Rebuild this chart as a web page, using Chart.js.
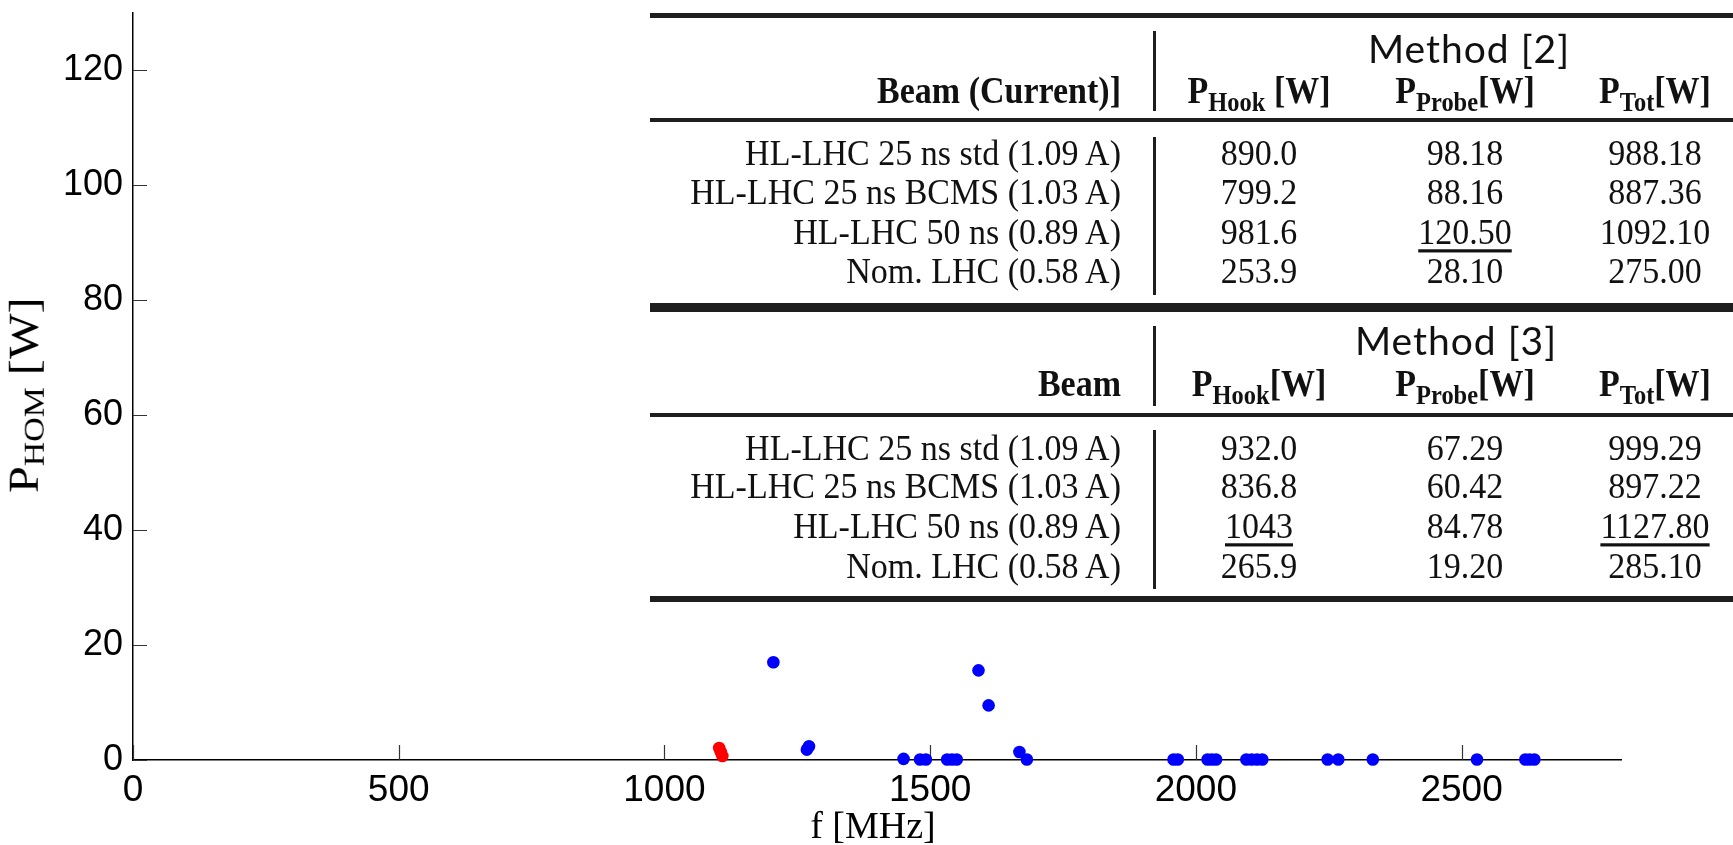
<!DOCTYPE html>
<html><head><meta charset="utf-8">
<script src="https://cdn.jsdelivr.net/npm/chart.js@4.4.1/dist/chart.umd.min.js"></script>
<style>
html,body{margin:0;padding:0;background:#fff;}
#wrap{position:relative;width:1733px;height:845px;overflow:hidden;background:#fff;}
#c{position:absolute;left:0;top:0;}
.t{position:absolute;white-space:nowrap;line-height:0;color:#111;}
.serif{font-family:"Liberation Serif","Times New Roman",serif;}
.sans{font-family:Lato,"Open Sans",sans-serif;letter-spacing:1px;}
.sb{font-size:0.72em;vertical-align:-0.3em;}
.ysb{font-size:0.7em;vertical-align:-0.22em;}
.rule{position:absolute;background:#1e1e1e;}
.ul{text-decoration:underline;text-decoration-thickness:3px;text-underline-offset:5px;}
</style></head><body>
<div id="wrap"><canvas id="c" width="1733" height="845"></canvas><div id="ov"></div></div>
<script>
// ---- chart data ----
const blueFreq  = [1205, 1268, 1272, 1450, 1481, 1492, 1532, 1541, 1550, 1591, 1610, 1668, 1682, 1958, 1966, 2022, 2030, 2038, 2095, 2105, 2115, 2125, 2248, 2268, 2333, 2529, 2620, 2628, 2637];
const bluePower = [17.0, 1.8, 2.4, 0.2, 0.1, 0.1, 0.1, 0.1, 0.1, 15.6, 9.5, 1.4, 0.1, 0.1, 0.1, 0.1, 0.1, 0.1, 0.1, 0.1, 0.1, 0.1, 0.1, 0.1, 0.1, 0.1, 0.1, 0.1, 0.1];
const redFreq   = [1103, 1106, 1109];
const redPower  = [2.1, 1.4, 0.7];
const xTickValues = [0, 500, 1000, 1500, 2000, 2500];
const yTickValues = [0, 20, 40, 60, 80, 100, 120];
const xMax = 2800, yMax = 130;

// ---- table data ----
const beamLabels = ["HL-LHC 25 ns std (1.09 A)", "HL-LHC 25 ns BCMS (1.03 A)", "HL-LHC 50 ns (0.89 A)", "Nom. LHC (0.58 A)"];
const m2Hook  = ["890.0", "799.2", "981.6", "253.9"];
const m2Probe = ["98.18", "88.16", "120.50", "28.10"];
const m2Tot   = ["988.18", "887.36", "1092.10", "275.00"];
const m3Hook  = ["932.0", "836.8", "1043", "265.9"];
const m3Probe = ["67.29", "60.42", "84.78", "19.20"];
const m3Tot   = ["999.29", "897.22", "1127.80", "285.10"];
const m2Underlined = [[2, 1]];          // [row, column]
const m3Underlined = [[2, 0], [2, 2]];

// ---- overlay helpers ----
const ov = document.getElementById('ov');
function txt(html, x, baseline, align, cls, size, ratio, sy, extra) {
  const d = document.createElement('div');
  d.className = 't ' + cls;
  d.style.fontSize = size + 'px';
  d.style.top = (baseline - ratio * size) + 'px';
  let tf = '';
  if (align === 'right') { d.style.right = (1733 - x) + 'px'; }
  else if (align === 'center') { d.style.left = x + 'px'; tf = 'translateX(-50%) '; }
  else { d.style.left = x + 'px'; }
  if (sy && sy !== 1) {
    tf += 'scaleY(' + sy + ')';
    d.style.transformOrigin = '50% ' + (ratio * size) + 'px';
  }
  if (tf) d.style.transform = tf;
  if (extra) Object.assign(d.style, extra);
  d.innerHTML = html;
  ov.appendChild(d);
  return d;
}
function rule(x, y, w, h) {
  const d = document.createElement('div');
  d.className = 'rule';
  Object.assign(d.style, {left: x + 'px', top: y + 'px', width: w + 'px', height: h + 'px'});
  ov.appendChild(d);
}
const SR = 0.3375, LR = 0.387;
const colX = [1259, 1465, 1655];
const labelRight = 1121, vX = 1153;
const HEAD_SY = 1.12, BODY_SY = 1.06;

function buildTable(o) {
  rule(650, o.topRuleY, 1083, o.topRuleH);
  txt(o.method, o.methodX, o.methodBase, 'center', 'sans', 39, LR, 1);
  rule(vX, o.vHead[0], 2.5, o.vHead[1] - o.vHead[0]);
  txt('<b>' + o.beamHead + '</b>', labelRight, o.headBase, 'right', 'serif', 34, SR, HEAD_SY);
  o.colHeads.forEach((h, i) => txt('<b>' + h + '</b>', colX[i], o.headBase, 'center', 'serif', 34, SR, HEAD_SY));
  rule(650, o.midRuleY, 1083, 4);
  rule(vX, o.vBody[0], 2.5, o.vBody[1] - o.vBody[0]);
  beamLabels.forEach((lab, r) => {
    txt(lab, labelRight, o.rowBase[r], 'right', 'serif', 34, SR, BODY_SY);
    [o.hook, o.probe, o.tot].forEach((col, c) => {
      const ul = o.under.some(u => u[0] === r && u[1] === c);
      txt(ul ? '<span class="ul">' + col[r] + '</span>' : col[r], colX[c], o.rowBase[r], 'center', 'serif', 34, SR, BODY_SY);
    });
  });
}
buildTable({
  topRuleY: 13, topRuleH: 5, method: 'Method [2]', methodX: 1469, methodBase: 63,
  vHead: [31, 111], beamHead: 'Beam (Current)]', headBase: 103,
  colHeads: ['P<span class="sb">Hook</span> [W]', 'P<span class="sb">Probe</span>[W]', 'P<span class="sb">Tot</span>[W]'],
  midRuleY: 118, vBody: [137, 295], rowBase: [165, 204, 244, 283],
  hook: m2Hook, probe: m2Probe, tot: m2Tot, under: m2Underlined
});
rule(650, 303, 1083, 9);
buildTable({
  topRuleY: 303, topRuleH: 9, method: 'Method [3]', methodX: 1456, methodBase: 355,
  vHead: [326, 406], beamHead: 'Beam', headBase: 396,
  colHeads: ['P<span class="sb">Hook</span>[W]', 'P<span class="sb">Probe</span>[W]', 'P<span class="sb">Tot</span>[W]'],
  midRuleY: 413, vBody: [430, 589], rowBase: [460, 498, 538, 578],
  hook: m3Hook, probe: m3Probe, tot: m3Tot, under: m3Underlined
});
rule(650, 596, 1083, 6);

// axis titles
txt('f [MHz]', 873, 838, 'center', 'serif', 38, SR, 1, {color: '#000'});
const yt = txt('P<span class="ysb">HOM</span> [W]', 29, 390, 'left', 'serif', 42, 0, 1, {color: '#000'});
yt.style.top = '390px';
yt.style.transform = 'translateX(-50%) rotate(-90deg) scaleX(1.15)';

// ---- chart ----
const innerTicks = {
  id: 'innerTicks',
  beforeDatasetsDraw(chart) {
    const {ctx, chartArea, scales: {x, y}} = chart;
    ctx.save();
    ctx.strokeStyle = '#333';
    ctx.lineWidth = 1.2;
    ctx.beginPath();
    x.ticks.forEach(t => {
      const px = Math.round(x.getPixelForValue(t.value)) + 0.5;
      ctx.moveTo(px, chartArea.bottom); ctx.lineTo(px, chartArea.bottom - 15);
    });
    y.ticks.forEach(t => {
      const py = Math.round(y.getPixelForValue(t.value)) + 0.5;
      ctx.moveTo(chartArea.left, py); ctx.lineTo(chartArea.left + 14, py);
    });
    ctx.stroke();
    ctx.restore();
  }
};
const fam = '"Liberation Sans", Arial, sans-serif';
new Chart(document.getElementById('c'), {
  type: 'scatter',
  data: {
    datasets: [
      {label: 'blue', data: blueFreq.map((f, i) => ({x: f, y: bluePower[i]})),
       backgroundColor: '#0000ff', borderColor: '#0000ff', pointRadius: 6.3, borderWidth: 0, clip: false},
      {label: 'red', data: redFreq.map((f, i) => ({x: f, y: redPower[i]})),
       backgroundColor: '#ff0000', borderColor: '#ff0000', pointRadius: 6.3, borderWidth: 0, clip: false}
    ]
  },
  options: {
    responsive: false, animation: false, events: [],
    layout: {padding: {left: 0, top: 13, right: 112, bottom: 0}},
    plugins: {legend: {display: false}, tooltip: {enabled: false}},
    scales: {
      x: {
        type: 'linear', min: 0, max: xMax,
        afterBuildTicks: s => { s.ticks = xTickValues.map(v => ({value: v})); },
        afterFit: s => { s.height = 85; s.paddingLeft = 0; s.paddingRight = 0; },
        grid: {display: false, drawTicks: false},
        border: {display: true, color: '#000', width: 1.5},
        ticks: {color: '#000', font: {family: fam, size: 37}, padding: 9, maxRotation: 0, autoSkip: false,
                callback: v => String(v)}
      },
      y: {
        type: 'linear', min: 0, max: yMax,
        afterBuildTicks: s => { s.ticks = yTickValues.map(v => ({value: v})); },
        afterFit: s => { s.width = 133; s.paddingTop = 0; s.paddingBottom = 0; },
        grid: {display: false, drawTicks: false},
        border: {display: true, color: '#000', width: 1.5},
        ticks: {color: '#000', font: {family: fam, size: 36}, padding: 10, autoSkip: false,
                callback: v => String(v)}
      }
    }
  },
  plugins: [innerTicks]
});
</script>
</body></html>
